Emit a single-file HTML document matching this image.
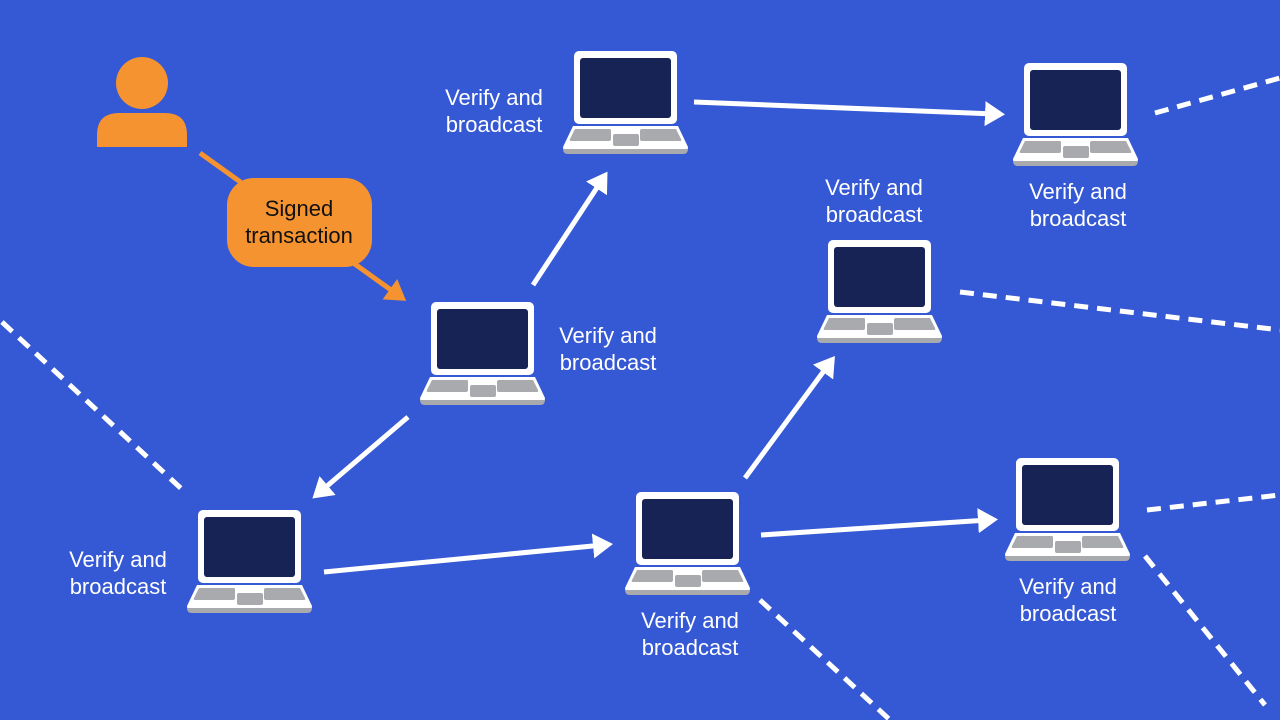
<!DOCTYPE html>
<html><head><meta charset="utf-8"><style>
html,body{margin:0;padding:0;background:#3558d4;}
svg{display:block}
text{font-family:"Liberation Sans",sans-serif;font-size:22px;fill:#fff;}
</style></head><body>
<svg width="1280" height="720" viewBox="0 0 1280 720" xmlns="http://www.w3.org/2000/svg">
<defs>
<g id="lap">
  <rect x="0" y="0" width="103" height="73" rx="5" fill="#fff"/>
  <rect x="6" y="7" width="91" height="60" rx="3" fill="#172354"/>
  <path d="M-1 75 H104 L114 96 Q114 101 109 101 H-6 Q-11 101 -11 96 Z" fill="#fff"/>
  <path d="M-11 98 H114 Q114 103 109 103 H-6 Q-11 103 -11 98 Z" fill="#a9aaae"/>
  <path d="M1 78 H36 Q37 78 37 80 V88 Q37 90 35 90 H-3 Q-5 90 -4 88 Z" fill="#a9aaae"/>
  <path d="M67 78 H102 L107 88 Q108 90 106 90 H68 Q66 90 66 88 V80 Q66 78 68 78 Z" fill="#a9aaae"/>
  <rect x="39" y="83" width="26" height="12" rx="2" fill="#a9aaae"/>
</g>
<marker id="ah" markerWidth="5" markerHeight="5" refX="2" refY="2.5" orient="auto" markerUnits="strokeWidth">
  <path d="M0 0 L4 2.5 L0 5 Z" fill="#fff"/>
</marker>
<marker id="ao" markerWidth="5" markerHeight="5" refX="2" refY="2.5" orient="auto" markerUnits="strokeWidth">
  <path d="M0 0 L4 2.5 L0 5 Z" fill="#f59331"/>
</marker>
</defs>

<g stroke="#fff" stroke-width="5" stroke-dasharray="14 9" fill="none">
  <line x1="2" y1="322" x2="187" y2="494"/>
  <line x1="1155" y1="113" x2="1280" y2="78"/>
  <line x1="960" y1="292" x2="1280" y2="330"/>
  <line x1="1147" y1="510" x2="1280" y2="495"/>
  <line x1="1145" y1="556" x2="1265" y2="705"/>
  <line x1="760" y1="600" x2="890" y2="720"/>
</g>

<g stroke="#fff" stroke-width="5" fill="none" marker-end="url(#ah)">
  <line x1="533" y1="285" x2="602" y2="180"/>
  <line x1="694" y1="102" x2="995" y2="114"/>
  <line x1="408" y1="417" x2="320" y2="492"/>
  <line x1="324" y1="572" x2="603" y2="545"/>
  <line x1="745" y1="478" x2="829" y2="364"/>
  <line x1="761" y1="535" x2="988" y2="520"/>
</g>

<circle cx="142" cy="83" r="26" fill="#f59331"/>
<path d="M97 147 V135 Q97 113 119 113 H165 Q187 113 187 135 V147 Z" fill="#f59331"/>
<line x1="200" y1="153" x2="398" y2="295" stroke="#f59331" stroke-width="5" marker-end="url(#ao)"/>
<rect x="227" y="178" width="145" height="89" rx="27" fill="#f59331"/>
<text x="299" y="216" text-anchor="middle" style="fill:#111">Signed</text>
<text x="299" y="243" text-anchor="middle" style="fill:#111">transaction</text>

<use href="#lap" x="431" y="302"/>
<use href="#lap" x="574" y="51"/>
<use href="#lap" x="1024" y="63"/>
<use href="#lap" x="828" y="240"/>
<use href="#lap" x="198" y="510"/>
<use href="#lap" x="636" y="492"/>
<use href="#lap" x="1016" y="458"/>

<text x="494" y="105" text-anchor="middle">Verify and</text>
<text x="494" y="132" text-anchor="middle">broadcast</text>
<text x="1078" y="199" text-anchor="middle">Verify and</text>
<text x="1078" y="226" text-anchor="middle">broadcast</text>
<text x="874" y="195" text-anchor="middle">Verify and</text>
<text x="874" y="222" text-anchor="middle">broadcast</text>
<text x="608" y="343" text-anchor="middle">Verify and</text>
<text x="608" y="370" text-anchor="middle">broadcast</text>
<text x="118" y="567" text-anchor="middle">Verify and</text>
<text x="118" y="594" text-anchor="middle">broadcast</text>
<text x="690" y="628" text-anchor="middle">Verify and</text>
<text x="690" y="655" text-anchor="middle">broadcast</text>
<text x="1068" y="594" text-anchor="middle">Verify and</text>
<text x="1068" y="621" text-anchor="middle">broadcast</text>
</svg>
</body></html>
